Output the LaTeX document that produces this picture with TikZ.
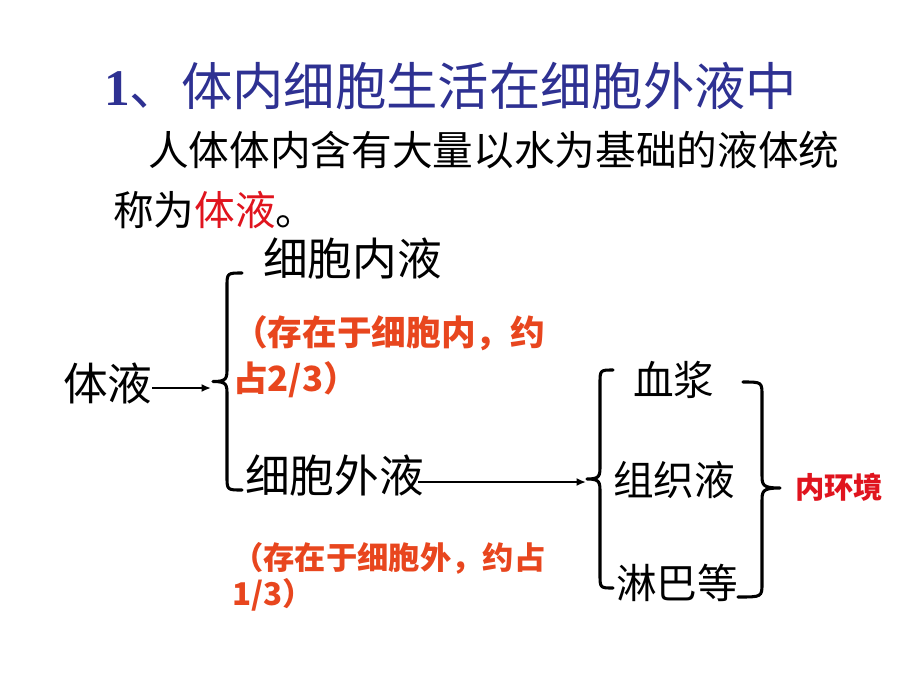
\documentclass[tikz,border=0pt]{standalone}
\usepackage{fontspec}
\newfontfamily\cjk{Noto Sans CJK SC}
\newfontfamily\latinserif{Liberation Serif}
\usetikzlibrary{arrows.meta}
\definecolor{titleblue}{HTML}{2E3192}
\definecolor{keyred}{HTML}{E0141E}
\definecolor{noteorange}{HTML}{E8461E}
\tikzset{
  txt/.style={anchor=base west, inner sep=0pt, outer sep=0pt, font=\cjk},
  bracestyle/.style={line width=2.3pt, line cap=round, line join=round},
  arr/.style={line width=1.4pt, -{Latex[length=7pt,width=6pt]}},
}
\newcommand\myLBrace[5]{% x, top, bottom, tipx, hookx
  \draw[bracestyle] (#5,#2) .. controls (#1,#2) and (#1,#2) .. (#1,{#2+14})
    -- (#1,{(#2+#3)/2-14}) .. controls (#1,{(#2+#3)/2-3}) and (#1,{(#2+#3)/2}) .. (#4,{(#2+#3)/2})
    .. controls (#1,{(#2+#3)/2}) and (#1,{(#2+#3)/2+3}) .. (#1,{(#2+#3)/2+14})
    -- (#1,{#3-14}) .. controls (#1,#3) and (#1,#3) .. (#5,#3);}
\begin{document}
\begin{tikzpicture}[x=0.75pt,y=-0.75pt]
\fill[white] (0,0) rectangle (920,690);
\useasboundingbox (0,0) rectangle (920,690);

% title and intro
\node[txt, text=titleblue, font=\cjk\fontsize{38.5pt}{38.5pt}\selectfont] (title) at (104,105)
  {{\latinserif\bfseries 1}、体内细胞生活在细胞外液中};
\node[txt, font=\cjk\fontsize{30.5pt}{30.5pt}\selectfont] (intro1) at (148,165.5)
  {人体体内含有大量以水为基础的液体统};
\node[txt, font=\cjk\fontsize{30.5pt}{30.5pt}\selectfont] (intro2) at (113,225.5)
  {称为\textcolor{keyred}{体液}。};

% left part
\node[txt, font=\cjk\fontsize{33.5pt}{33.5pt}\selectfont] (tiye) at (63,400) {体液};
\node[txt, font=\cjk\fontsize{33.5pt}{33.5pt}\selectfont] (neiye) at (263,275) {细胞内液};
\node[txt, font=\cjk\fontsize{33.5pt}{33.5pt}\selectfont] (waiye) at (245,492) {细胞外液};
\node[txt, text=noteorange, font=\cjk\bfseries\fontsize{26pt}{34.5pt}\selectfont, align=left] (note1) at (233,391)
  {（存在于细胞内，约\\占2/3）};
\node[txt, text=noteorange, font=\cjk\bfseries\fontsize{23.5pt}{26.3pt}\selectfont, align=left] (note2) at (232,605)
  {（存在于细胞外，约占\\1/3）};

\myLBrace{227}{273}{490}{213}{242}
\coordinate (cusp1) at (211,385);
\draw[arr] (tiye.east |- 0,388) -- (cusp1 |- 0,388);

% right part
\node[txt, font=\cjk\fontsize{30.5pt}{30.5pt}\selectfont] (xuejiang) at (633,395) {血浆};
\node[txt, font=\cjk\fontsize{30.5pt}{30.5pt}\selectfont] (zuzhiye) at (613,495) {组织液};
\node[txt, font=\cjk\fontsize{30.5pt}{30.5pt}\selectfont] (linba) at (616,598) {淋巴等};
\node[txt, text=keyred, font=\cjk\bfseries\fontsize{22pt}{22pt}\selectfont] (neihuanjing) at (795,498) {内环境};

\myLBrace{600}{370}{588}{587}{613}
\coordinate (cusp2) at (586,482);
\coordinate (a2start) at (418,482);
\draw[arr] (a2start) -- (cusp2);

% right-facing brace
\draw[bracestyle] (743,382) .. controls (762,382) and (762,382) .. (762,396)
  -- (762,474) .. controls (762,485) and (762,488) .. (780,488)
  .. controls (762,488) and (762,491) .. (762,502)
  -- (762,583) .. controls (762,597) and (762,597) .. (738,597);
\end{tikzpicture}
\end{document}
